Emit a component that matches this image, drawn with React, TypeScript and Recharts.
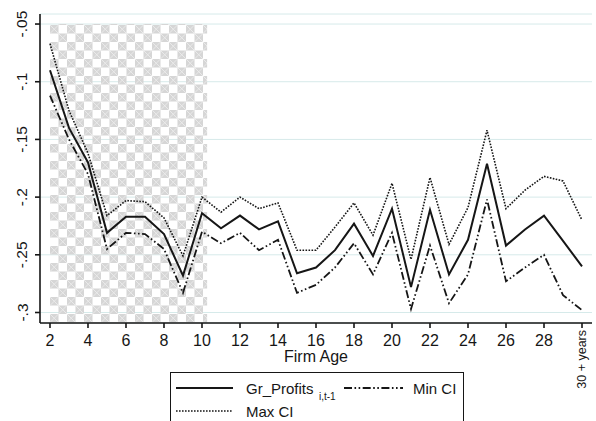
import { CartesianGrid, Line, LineChart, ReferenceArea, XAxis, YAxis } from "recharts";

const FONT = "'Liberation Sans', Arial, sans-serif";
const INK = "#161616";
const GRID = "#d6eaea";

const AGES = [2, 3, 4, 5, 6, 7, 8, 9, 10, 11, 12, 13, 14, 15, 16, 17, 18, 19, 20, 21, 22, 23, 24, 25, 26, 27, 28, 29, 30];
const GR_PROFITS = [-0.090, -0.140, -0.170, -0.231, -0.217, -0.217, -0.232, -0.268, -0.214, -0.227, -0.216, -0.228, -0.221, -0.266, -0.261, -0.246, -0.223, -0.251, -0.210, -0.278, -0.211, -0.267, -0.237, -0.171, -0.242, -0.228, -0.216, -0.238, -0.260];
const MAX_CI = [-0.067, -0.125, -0.162, -0.216, -0.203, -0.204, -0.218, -0.251, -0.200, -0.213, -0.200, -0.210, -0.205, -0.246, -0.246, -0.226, -0.205, -0.233, -0.188, -0.254, -0.183, -0.241, -0.209, -0.142, -0.210, -0.194, -0.182, -0.186, -0.220];
const MIN_CI = [-0.112, -0.150, -0.180, -0.245, -0.231, -0.232, -0.245, -0.283, -0.230, -0.240, -0.231, -0.246, -0.237, -0.283, -0.276, -0.261, -0.240, -0.267, -0.231, -0.297, -0.242, -0.292, -0.267, -0.202, -0.273, -0.261, -0.250, -0.285, -0.298];

const X_TICKS = [2, 4, 6, 8, 10, 12, 14, 16, 18, 20, 22, 24, 26, 28, 30];
const Y_TICKS = [-0.3, -0.25, -0.2, -0.15, -0.1, -0.05];
const Y_LABELS: Record<string, string> = {
  "-0.3": "-.3", "-0.25": "-.25", "-0.2": "-.2", "-0.15": "-.15", "-0.1": "-.1", "-0.05": "-.05",
};
const LAST_AGE_LABEL = "30 + years";
// shaded band: young firms, age 2 to just past 10
const SHADE_FROM = 2;
const SHADE_TO = 10.27;

const X_DOMAIN = [1.474, 30.526];
const Y_DOMAIN = [-0.3091, -0.0413];

const DASH_DOT = "8 2.5 1.6 2.5 1.6 2.5";
const DOTTED = "1.6 1.4";

const rows = AGES.map((age, i) => ({ age, gr: GR_PROFITS[i], max: MAX_CI[i], min: MIN_CI[i] }));

function XTick(props: any) {
  const { x, y, payload } = props;
  if (payload.value === 30) {
    return (
      <text x={x} y={y} transform={`rotate(-90, ${x}, ${y})`} textAnchor="end" dominantBaseline="central"
        fontFamily={FONT} fontSize={12.5} fill={INK}>{LAST_AGE_LABEL}</text>
    );
  }
  return (
    <text x={x} y={y + 10} textAnchor="middle" dominantBaseline="central" fontFamily={FONT} fontSize={16} fill={INK}>
      {payload.value}
    </text>
  );
}

function YTick(props: any) {
  const { x, y, payload } = props;
  const cx = x - 11;
  return (
    <text x={cx} y={y} transform={`rotate(-90, ${cx}, ${y})`} textAnchor="middle" dominantBaseline="central"
      fontFamily={FONT} fontSize={15.5} fill={INK}>
      {Y_LABELS[String(payload.value)] ?? payload.value}
    </text>
  );
}

function LegendBox() {
  const txt = { fontFamily: FONT, fontSize: 15, fill: INK } as const;
  return (
    <div style={{ position: "absolute", left: 170, top: 372, width: 292, height: 70, border: `1.5px solid ${INK}`, background: "#fff" }}>
      <svg width={292} height={70}>
        <line x1={5} x2={62} y1={15} y2={15} stroke={INK} strokeWidth={2} />
        <text x={75} y={15} dominantBaseline="central" {...txt}>Gr_Profits</text>
        <text x={148} y={23} dominantBaseline="central" {...txt} fontSize={10}>i,t-1</text>
        <line x1={173} x2={232} y1={15} y2={15} stroke={INK} strokeWidth={1.8} strokeDasharray={DASH_DOT} />
        <text x={242} y={15} dominantBaseline="central" {...txt}>Min CI</text>
        <line x1={5} x2={62} y1={38} y2={38} stroke={INK} strokeWidth={1.6} strokeDasharray={DOTTED} />
        <text x={75} y={38} dominantBaseline="central" {...txt}>Max CI</text>
      </svg>
    </div>
  );
}

export default function App() {
  return (
    <div style={{ position: "absolute", left: 0, top: 0, width: 596, height: 421, overflow: "hidden", background: "#fff" }}>
      <LineChart width={596} height={421} data={rows} margin={{ top: 14, right: 4, left: 0, bottom: 58 }}>
        <defs>
          <pattern id="checker" patternUnits="userSpaceOnUse" x={50} y={25} width={17} height={17}>
            <rect x={0} y={0} width={8.5} height={8.5} fill="#d6d6d6" />
            <rect x={8.5} y={8.5} width={8.5} height={8.5} fill="#d6d6d6" />
            <path d="M0 0L8.5 8.5M8.5 0L0 8.5M8.5 8.5L17 17M17 8.5L8.5 17" stroke="#ececec" strokeWidth={0.9} />
          </pattern>
        </defs>
        <CartesianGrid stroke={GRID} vertical={false} />
        <ReferenceArea x1={SHADE_FROM} x2={SHADE_TO} y1={Y_DOMAIN[0]} y2={-0.05} fill="url(#checker)" fillOpacity={1}
          stroke="none" ifOverflow="hidden" />
        <XAxis type="number" dataKey="age" domain={X_DOMAIN} ticks={X_TICKS} allowDataOverflow
          stroke={INK} strokeWidth={1.6} tickSize={5} tick={<XTick />} height={40} interval={0}
          label={{ value: "Firm Age", position: "insideBottom", offset: 1, fontFamily: FONT, fontSize: 16, fill: INK }} />
        <YAxis type="number" domain={Y_DOMAIN} ticks={Y_TICKS} allowDataOverflow width={40}
          stroke={INK} strokeWidth={1.6} tickSize={5} tick={<YTick />} interval={0} />
        <Line dataKey="max" stroke={INK} strokeWidth={1.6} strokeDasharray={DOTTED} dot={false} isAnimationActive={false} />
        <Line dataKey="min" stroke={INK} strokeWidth={1.8} strokeDasharray={DASH_DOT} dot={false} isAnimationActive={false} />
        <Line dataKey="gr" stroke={INK} strokeWidth={2} dot={false} isAnimationActive={false} />
      </LineChart>
      <LegendBox />
    </div>
  );
}
